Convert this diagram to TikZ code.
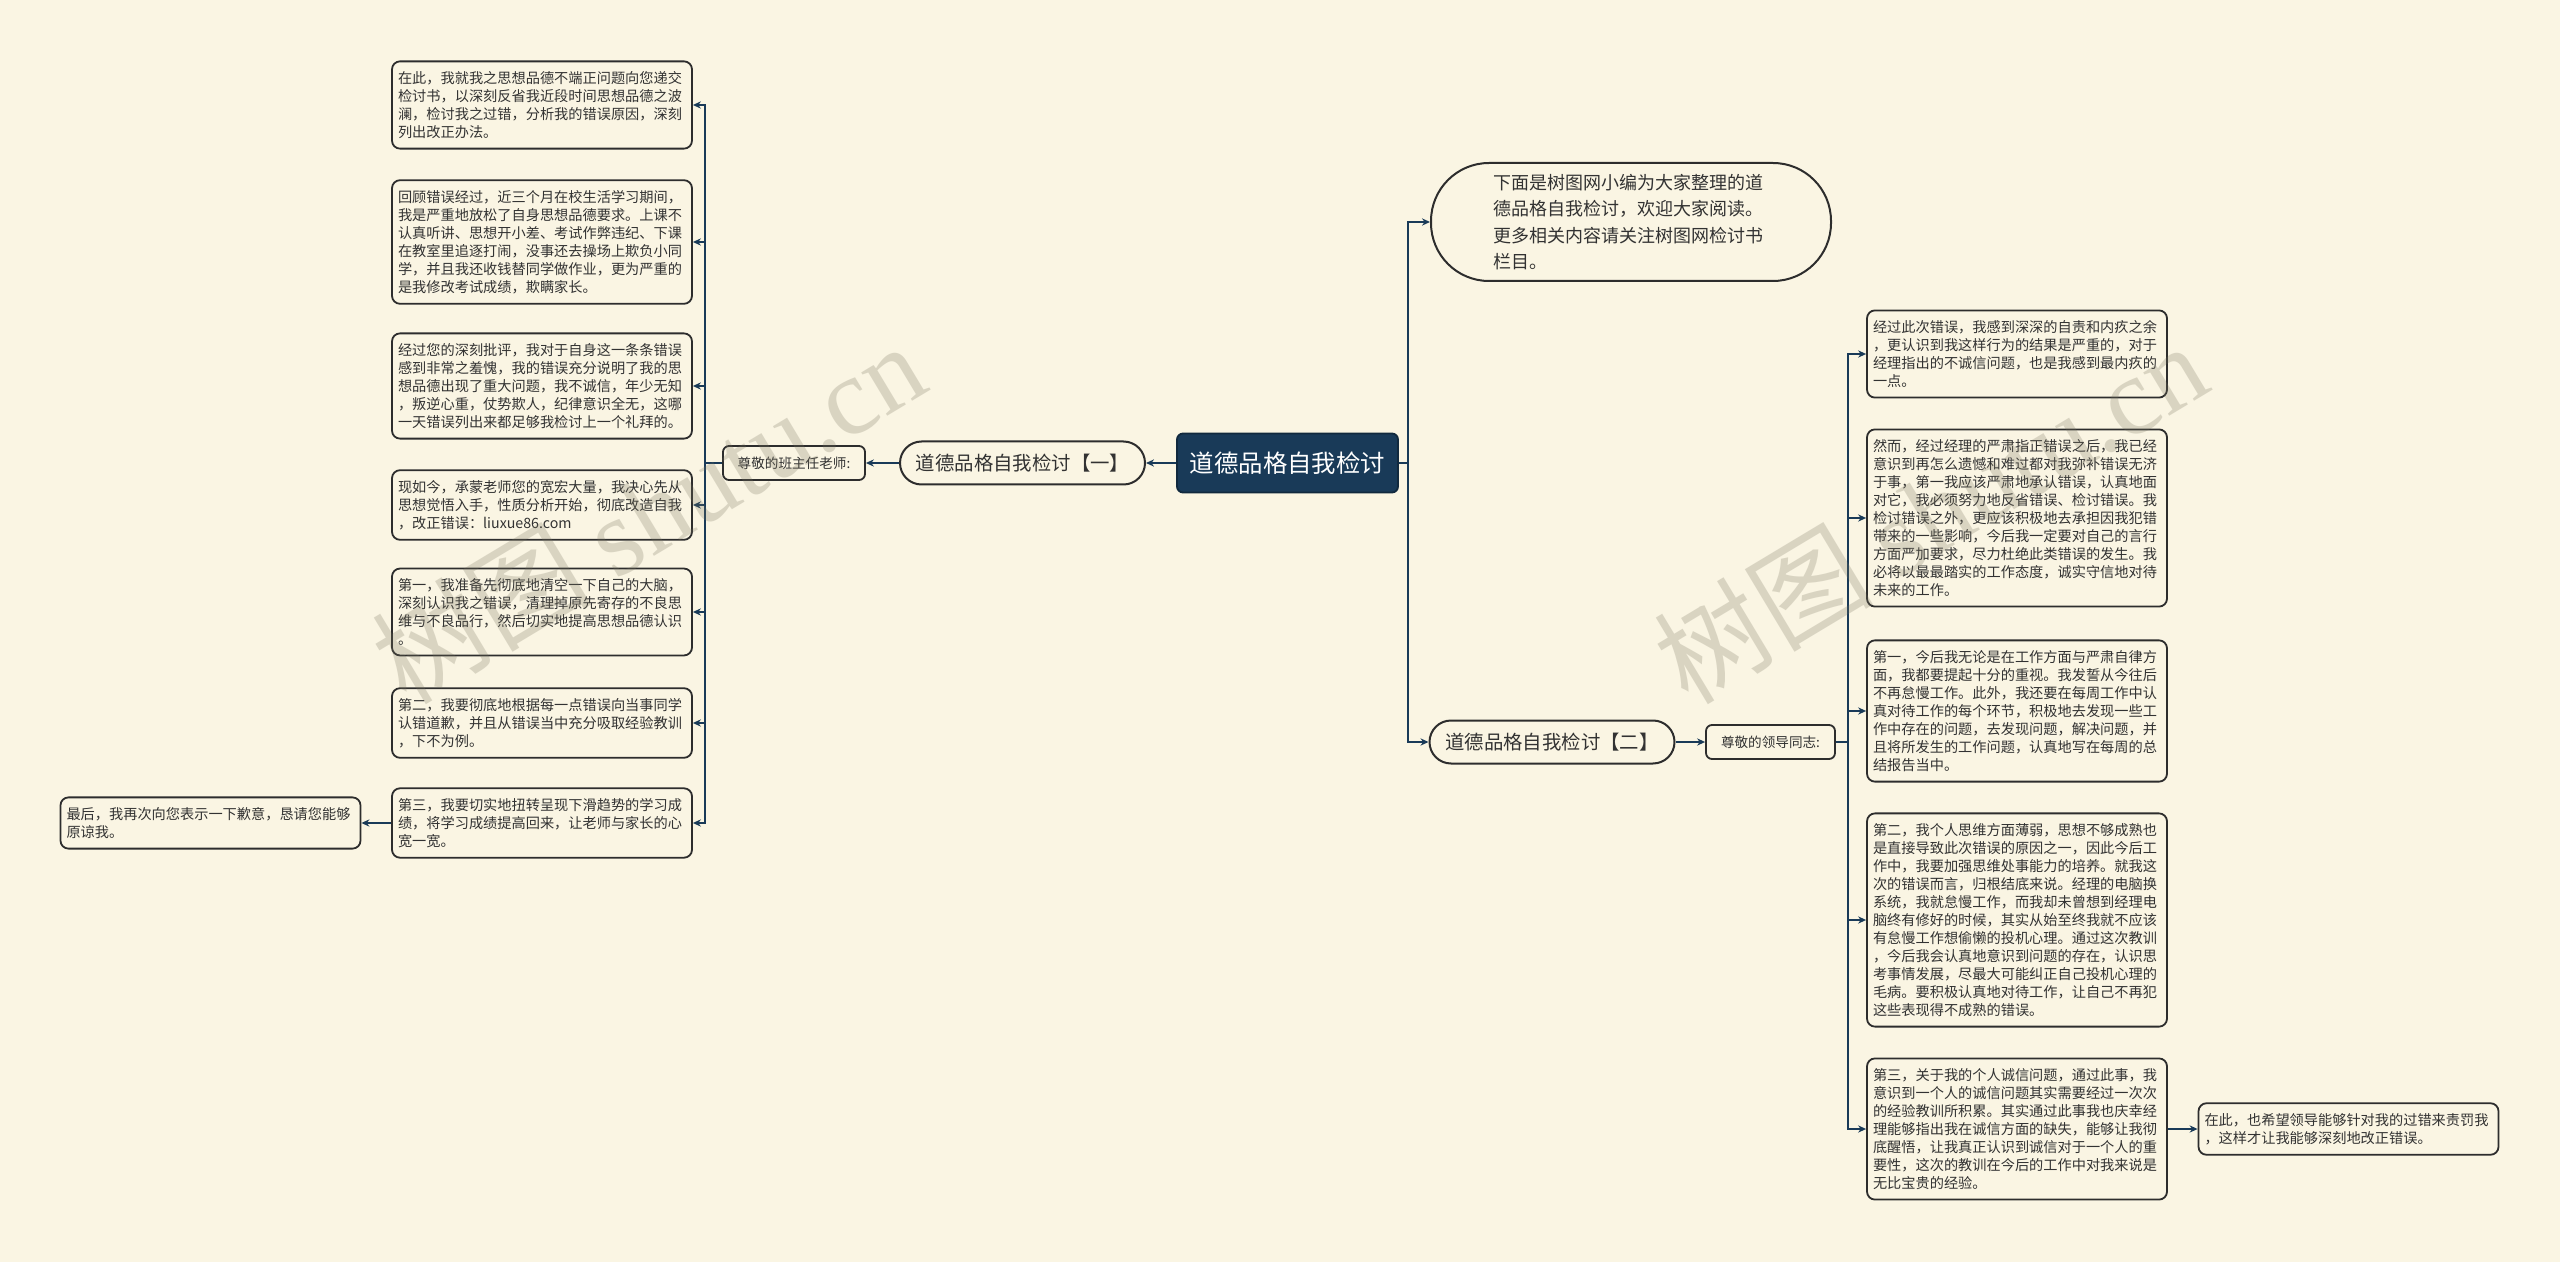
\documentclass[tikz,border=0pt]{standalone}
\usepackage{fontspec}
\setmainfont{Noto Sans CJK SC}
\newfontfamily\wmserif{Liberation Serif}
\usepackage{xcolor}
\usetikzlibrary{arrows.meta, positioning, calc}

\definecolor{paper}{RGB}{250,245,227}
\definecolor{navy}{RGB}{25,58,88}
\definecolor{edge}{RGB}{45,45,45}
\definecolor{ink}{RGB}{50,50,50}
\definecolor{wmgray}{RGB}{120,115,95}

\begin{document}
\begin{tikzpicture}[x=0.5pt, y=-0.5pt,
    every node/.style={font=\fontsize{7.1}{9}\selectfont, text=ink},
    leafbox/.style={draw=edge, line width=0.9pt, rounded corners=4pt, fill=paper,
        align=left, text width=144pt, inner xsep=3pt, inner ysep=5pt},
    rootbox/.style={draw=navy!70!black, line width=0.9pt, fill=navy, text=white,
        rounded corners=3pt, minimum width=110.5pt, minimum height=29.5pt,
        font=\fontsize{12.2}{14}\selectfont},
    topicbox/.style={draw=edge, line width=1pt, fill=paper, rounded corners=10.75pt,
        minimum width=122.5pt, minimum height=21.5pt, font=\fontsize{9.7}{12}\selectfont},
    introbox/.style={draw=edge, line width=1pt, fill=paper, rounded corners=29pt,
        minimum width=200pt, minimum height=59pt, align=left, text width=138pt,
        font=\fontsize{9}{13.3}\selectfont},
    greetbox/.style={draw=edge, line width=0.9pt, fill=paper, rounded corners=3pt,
        minimum height=17pt, inner xsep=2pt, font=\fontsize{6.8}{8}\selectfont},
    conn/.style={draw=navy, line width=1.1pt, -{Stealth[length=4pt, width=3.6pt]}},
    wmark/.style={text=wmgray, text opacity=0.25, font=\fontsize{55}{55}\selectfont}]

    \fill[paper] (0,0) rectangle (2560,1262);
    \useasboundingbox (0,0) rectangle (2560,1262);

    % centre
    \node[rootbox] (root) at (1287.5,463) {道德品格自我检讨};

    % left branch
    \node[topicbox] (p1) at (1022.5,463) {道德品格自我检讨【一】};
    \node[greetbox, minimum width=71pt] (g1) at (794,463) {尊敬的班主任老师:};
    \coordinate (lj) at (705,463);

    \node[leafbox] (a1) at (542,105) {在此，我就我之思想品德不端正问题向您递交\\检讨书，以深刻反省我近段时间思想品德之波\\澜，检讨我之过错，分析我的错误原因，深刻\\列出改正办法。};
    \node[leafbox] (a2) at (542,242) {回顾错误经过，近三个月在校生活学习期间，\\我是严重地放松了自身思想品德要求。上课不\\认真听讲、思想开小差、考试作弊违纪、下课\\在教室里追逐打闹，没事还去操场上欺负小同\\学，并且我还收钱替同学做作业，更为严重的\\是我修改考试成绩，欺瞒家长。};
    \node[leafbox] (a3) at (542,386) {经过您的深刻批评，我对于自身这一条条错误\\感到非常之羞愧，我的错误充分说明了我的思\\想品德出现了重大问题，我不诚信，年少无知\\，叛逆心重，仗势欺人，纪律意识全无，这哪\\一天错误列出来都足够我检讨上一个礼拜的。};
    \node[leafbox] (a4) at (542,505) {现如今，承蒙老师您的宽宏大量，我决心先从\\思想觉悟入手，性质分析开始，彻底改造自我\\，改正错误：liuxue86.com};
    \node[leafbox] (a5) at (542,612) {第一，我准备先彻底地清空一下自己的大脑，\\深刻认识我之错误，清理掉原先寄存的不良思\\维与不良品行，然后切实地提高思想品德认识\\。};
    \node[leafbox] (a6) at (542,723) {第二，我要彻底地根据每一点错误向当事同学\\认错道歉，并且从错误当中充分吸取经验教训\\，下不为例。};
    \node[leafbox] (a7) at (542,823) {第三，我要切实地扭转呈现下滑趋势的学习成\\绩，将学习成绩提高回来，让老师与家长的心\\宽一宽。};
    \node[leafbox] (a8) at (210.5,823) {最后，我再次向您表示一下歉意，恳请您能够\\原谅我。};

    \draw[conn] (root.west) -- (p1.east);
    \draw[conn] (p1.west) -- (g1.east);
    \foreach \i in {1,...,7}
        \draw[conn] (g1.west) -- (lj) |- (a\i.east);
    \draw[conn] (a7.west) -- (a8.east);

    % right branch
    \node[introbox] (intro) at (1631,222) {下面是树图网小编为大家整理的道\\德品格自我检讨，欢迎大家阅读。\\更多相关内容请关注树图网检讨书\\栏目。};
    \node[topicbox] (p2) at (1552,742) {道德品格自我检讨【二】};
    \node[greetbox, minimum width=64.5pt] (g2) at (1770.5,742) {尊敬的领导同志:};
    \coordinate (rj) at (1408,463);
    \coordinate (sj) at (1848,742);

    \node[leafbox] (b1) at (2017,354) {经过此次错误，我感到深深的自责和内疚之余\\，更认识到我这样行为的结果是严重的，对于\\经理指出的不诚信问题，也是我感到最内疚的\\一点。};
    \node[leafbox] (b2) at (2017,518) {然而，经过经理的严肃指正错误之后，我已经\\意识到再怎么遗憾和难过都对我弥补错误无济\\于事，第一我应该严肃地承认错误，认真地面\\对它，我必须努力地反省错误、检讨错误。我\\检讨错误之外，更应该积极地去承担因我犯错\\带来的一些影响，今后我一定要对自己的言行\\方面严加要求，尽力杜绝此类错误的发生。我\\必将以最最踏实的工作态度，诚实守信地对待\\未来的工作。};
    \node[leafbox] (b3) at (2017,711) {第一，今后我无论是在工作方面与严肃自律方\\面，我都要提起十分的重视。我发誓从今往后\\不再怠慢工作。此外，我还要在每周工作中认\\真对待工作的每个环节，积极地去发现一些工\\作中存在的问题，去发现问题，解决问题，并\\且将所发生的工作问题，认真地写在每周的总\\结报告当中。};
    \node[leafbox] (b4) at (2017,920) {第二，我个人思维方面薄弱，思想不够成熟也\\是直接导致此次错误的原因之一，因此今后工\\作中，我要加强思维处事能力的培养。就我这\\次的错误而言，归根结底来说。经理的电脑换\\系统，我就怠慢工作，而我却未曾想到经理电\\脑终有修好的时候，其实从始至终我就不应该\\有怠慢工作想偷懒的投机心理。通过这次教训\\，今后我会认真地意识到问题的存在，认识思\\考事情发展，尽最大可能纠正自己投机心理的\\毛病。要积极认真地对待工作，让自己不再犯\\这些表现得不成熟的错误。};
    \node[leafbox] (b5) at (2017,1129) {第三，关于我的个人诚信问题，通过此事，我\\意识到一个人的诚信问题其实需要经过一次次\\的经验教训所积累。其实通过此事我也庆幸经\\理能够指出我在诚信方面的缺失，能够让我彻\\底醒悟，让我真正认识到诚信对于一个人的重\\要性，这次的教训在今后的工作中对我来说是\\无比宝贵的经验。};
    \node[leafbox] (b6) at (2348.5,1129) {在此，也希望领导能够针对我的过错来责罚我\\，这样才让我能够深刻地改正错误。};

    \draw[conn] (root.east) -- (rj) |- (intro.west);
    \draw[conn] (root.east) -- (rj) |- (p2.west);
    \draw[conn] (p2.east) -- (g2.west);
    \foreach \i in {1,...,5}
        \draw[conn] (g2.east) -- (sj) |- (b\i.west);
    \draw[conn] (b5.east) -- (b6.west);

    % watermarks
    \node[wmark, rotate=31] (wm1) at (648,512) {树图 {\wmserif shutu.cn}};
    \node[wmark, rotate=31] (wm2) at (1930,512) {树图 {\wmserif shutu.cn}};
\end{tikzpicture}
\end{document}
